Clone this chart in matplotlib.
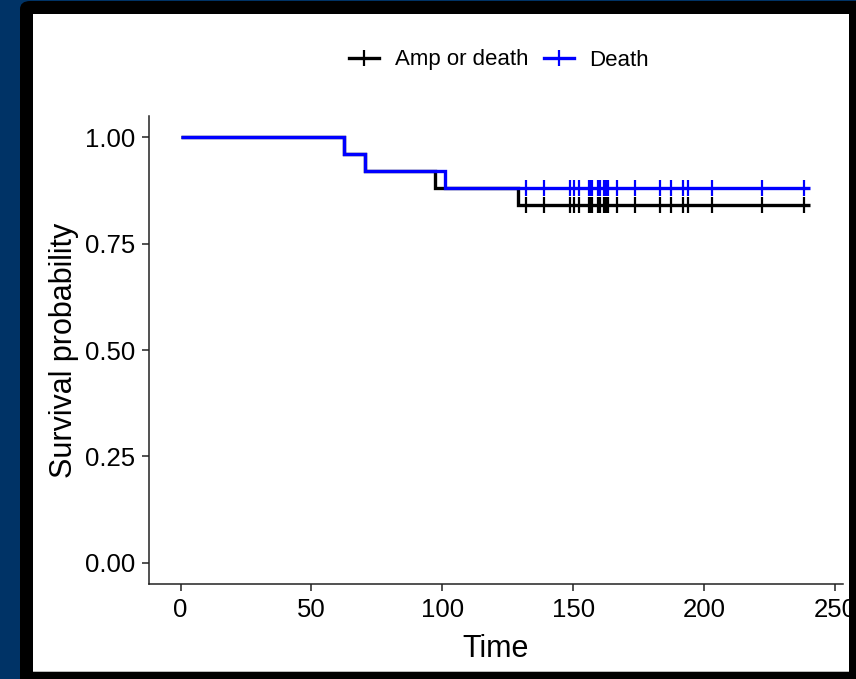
import matplotlib
matplotlib.use("Agg")
import matplotlib.pyplot as plt
from matplotlib.patches import Rectangle, FancyBboxPatch
from matplotlib.lines import Line2D

plt.rcParams['font.family'] = ['Liberation Sans', 'DejaVu Sans']

# ---- data ----
series_names = ["Amp or death", "Death"]
series_colors = ["black", "#0000FF"]
amp_times = [0, 62.3, 70.5, 97.3, 128.9, 240.5]
amp_surv = [1.00, 0.96, 0.92, 0.88, 0.84, 0.84]
death_times = [0, 62.3, 70.5, 100.9, 240.5]
death_surv = [1.00, 0.96, 0.92, 0.88, 0.88]
censor_times = [132.1, 138.7, 148.6, 150.4, 152.2, 155.9, 156.6, 157.3, 159.3,
                160.3, 161.8, 162.5, 163.1, 166.9, 173.7, 183.2, 187.4, 192.1,
                194.0, 203.0, 222.0, 238.0]
x_ticks = [0, 50, 100, 150, 200, 250]
y_ticks = [0.00, 0.25, 0.50, 0.75, 1.00]
y_ticklabels = ["0.00", "0.25", "0.50", "0.75", "1.00"]
x_label = "Time"
y_label = "Survival probability"

W, H = 856, 679
fig = plt.figure(figsize=(W / 100, H / 100), dpi=100)
fig.patch.set_facecolor("#003366")

# black frame and white panel (figure pixel coordinates)
def px(x0, y0, x1, y1):
    return (x0 / W, 1 - y1 / H), (x1 - x0) / W, (y1 - y0) / H

(xy, w, h) = px(20, 1, 870, 690)
fig.patches.append(FancyBboxPatch(xy, w, h, boxstyle="round,pad=0,rounding_size=0.012",
                                  transform=fig.transFigure, facecolor="black",
                                  edgecolor="none", zorder=0))
(xy, w, h) = px(33, 14, 849, 672)
fig.patches.append(Rectangle(xy, w, h, transform=fig.transFigure, facecolor="#BBBBBB",
                             edgecolor="none", zorder=1))
(xy, w, h) = px(33, 14, 849, 671)
fig.patches.append(Rectangle(xy, w, h, transform=fig.transFigure, facecolor="white",
                             edgecolor="none", zorder=2))

ax = fig.add_axes([149 / W, 1 - 584 / H, (843 - 149) / W, (584 - 116) / H])
ax.set_facecolor("none")
ax.set_zorder(3)

lw = 2.4
ms = 11.5
mew = 1.6

def surv_at(times, surv, t):
    s = surv[0]
    for ti, si in zip(times, surv):
        if ti <= t:
            s = si
    return s

all_times = [amp_times, death_times]
all_surv = [amp_surv, death_surv]
for times, surv, col in zip(all_times, all_surv, series_colors):
    ax.step(times, surv, where="post", color=col, lw=lw, solid_capstyle="butt",
            solid_joinstyle="miter", zorder=3)
    cy = [surv_at(times, surv, t) for t in censor_times]
    ax.plot(censor_times, cy, linestyle="none", marker="|", markersize=ms,
            markeredgewidth=mew, color=col, zorder=4)

ax.set_xlim(-0.05 * 241, 241 * 1.05)
ax.set_ylim(-0.05, 1.05)
ax.set_xticks(x_ticks)
ax.set_yticks(y_ticks)
ax.set_yticklabels(y_ticklabels)
for s in ["top", "right"]:
    ax.spines[s].set_visible(False)
for s in ["left", "bottom"]:
    ax.spines[s].set_linewidth(1.1)
    ax.spines[s].set_color("#222222")
ax.tick_params(axis="both", direction="out", length=5, width=1.1, color="#222222",
               labelsize=18.5, labelcolor="black")
ax.tick_params(axis="y", pad=5)
ax.tick_params(axis="x", pad=5)
ax.set_xlabel(x_label, fontsize=22, labelpad=9)
ax.set_ylabel(y_label, fontsize=22, labelpad=4)

handles = [Line2D([], [], color=c, lw=lw, marker="|", markersize=ms, markeredgewidth=mew)
           for c in series_colors]
fig.legend(handles, series_names, loc="center", bbox_to_anchor=(499 / W, 1 - 60 / H),
           ncol=2, frameon=False, fontsize=16, handlelength=1.35, handletextpad=0.7,
           columnspacing=0.7)

fig.savefig("out.png", dpi=100, facecolor=fig.get_facecolor())
